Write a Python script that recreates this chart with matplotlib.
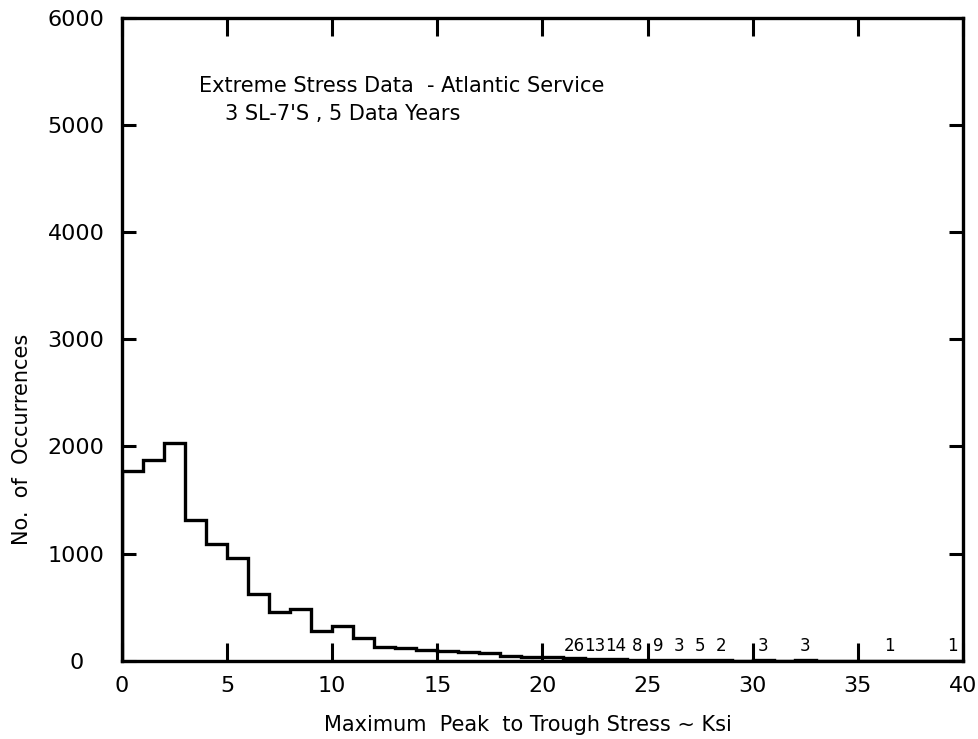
import matplotlib
matplotlib.use('Agg')
import matplotlib.pyplot as plt
import numpy as np

# 1 ksi bins from 0 to 40
edges = np.arange(0, 41, 1)
counts = [1775, 1875, 2030, 1310, 1090, 955, 625, 450, 480, 278,
          324, 207, 130, 120, 95, 88, 82, 76, 40, 35,
          30, 26, 13, 14, 8, 9, 3, 5, 2, 0,
          3, 0, 3, 0, 0, 0, 1, 0, 0, 1]
label_from = 21  # counts written above the tail bins

xticks = [0, 5, 10, 15, 20, 25, 30, 35, 40]
yticks = [0, 1000, 2000, 3000, 4000, 5000, 6000]

plt.rcParams['font.family'] = 'DejaVu Sans'

fig = plt.figure(figsize=(9.79, 7.39), dpi=100)
ax = fig.add_axes([0.1246, 0.106, 0.859, 0.8696])

ax.stairs(counts, edges, color='black', linewidth=2.4)

for i in range(label_from, len(counts)):
    if counts[i] > 0:
        ax.text(edges[i] + 0.5, 55, str(counts[i]), ha='center', va='bottom',
                fontsize=12)

ax.set_xlim(0, 40)
ax.set_ylim(0, 6000)
ax.set_xticks(xticks)
ax.set_yticks(yticks)
ax.tick_params(axis='x', direction='in', length=13, width=2.2, top=True,
               labelsize=16, pad=11)
ax.tick_params(axis='y', direction='in', length=10, width=2.2, right=True,
               labelsize=16, pad=33)
for lab in ax.get_yticklabels():
    lab.set_horizontalalignment('center')
for s in ax.spines.values():
    s.set_linewidth(2.4)

ax.set_xlabel('Maximum  Peak  to Trough Stress ~ Ksi', fontsize=15, labelpad=9)
ax.xaxis.set_label_coords(0.483, -0.085)
ax.set_ylabel('No.  of  Occurrences', fontsize=15)
ax.yaxis.set_label_coords(-0.107, 0.344)

ax.text(0.092, 0.8936, 'Extreme Stress Data  - Atlantic Service',
        transform=ax.transAxes, fontsize=15, va='center')
ax.text(0.122, 0.850, "3 SL-7'S , 5 Data Years",
        transform=ax.transAxes, fontsize=15, va='center')

fig.savefig('out.png', dpi=100)
